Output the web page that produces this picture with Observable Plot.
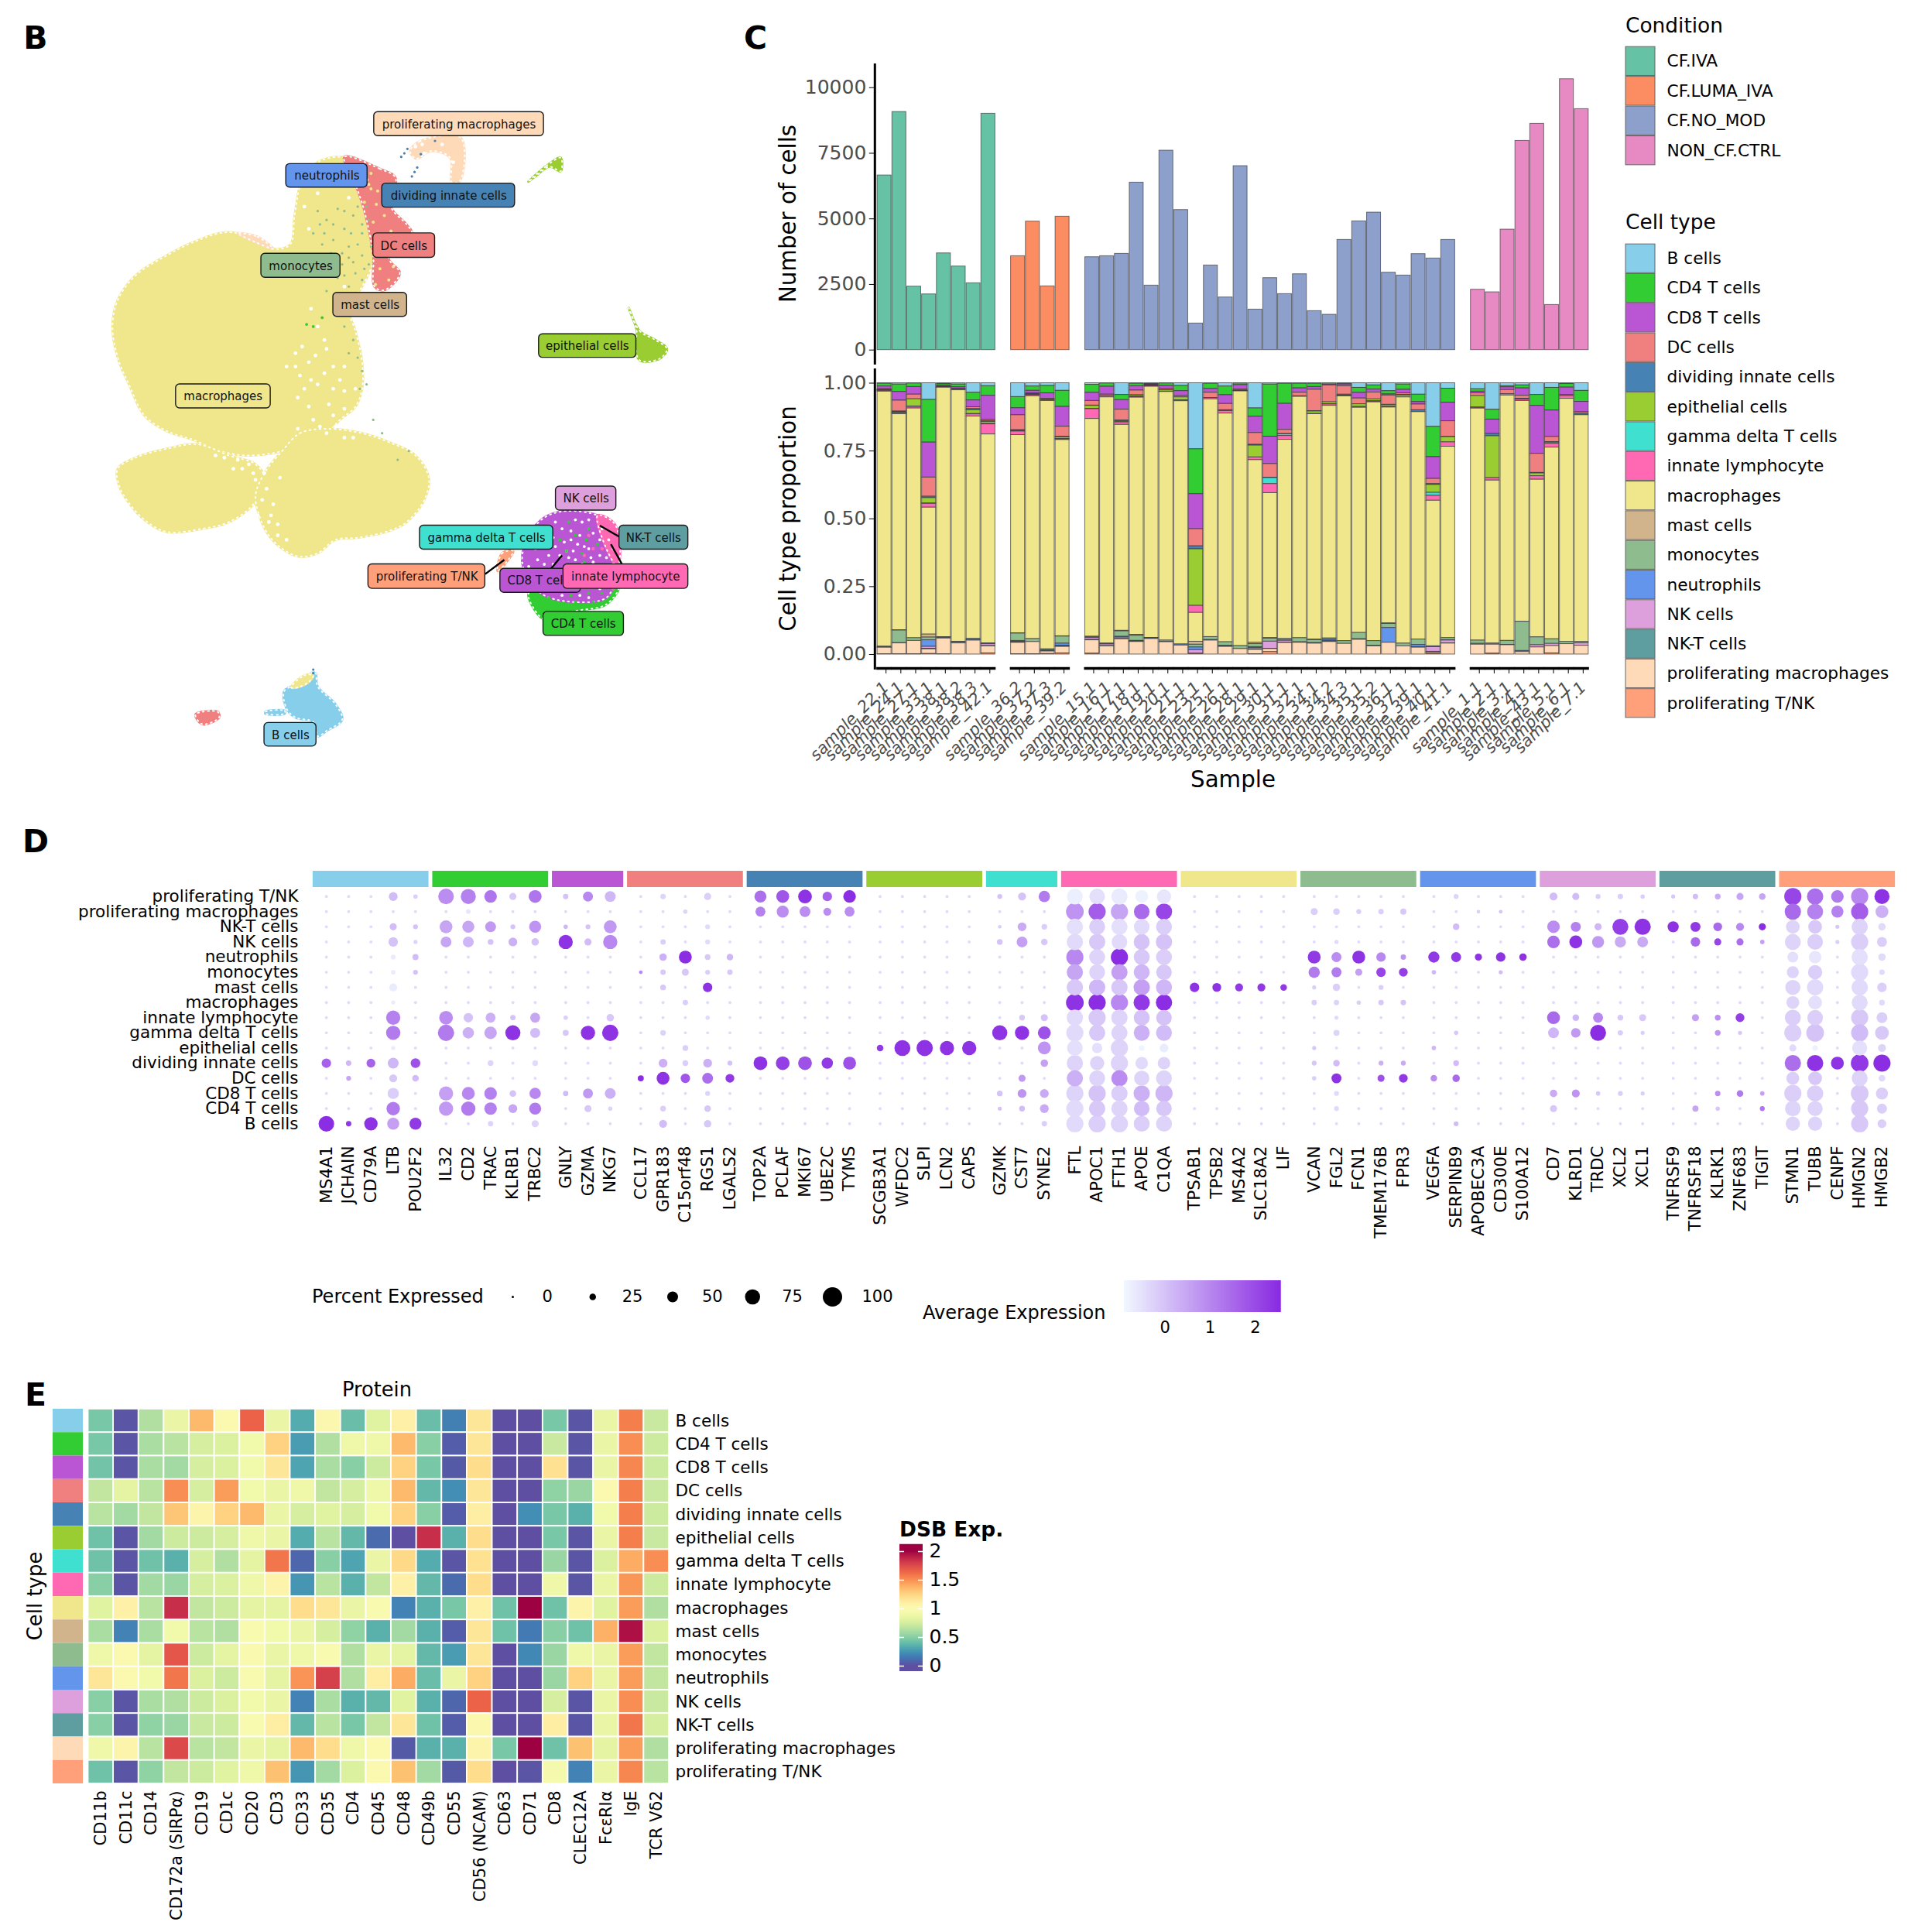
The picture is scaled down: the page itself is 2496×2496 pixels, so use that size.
<!DOCTYPE html>
<html><head><meta charset="utf-8">
<script src="https://cdn.jsdelivr.net/npm/d3@7"></script>
<script src="https://cdn.jsdelivr.net/npm/@observablehq/plot@0.6"></script>
<style>
html,body{margin:0;padding:0;background:#fff}
#root{position:relative;width:2496px;height:2496px;overflow:hidden;font-family:"DejaVu Sans",sans-serif}
</style></head><body><div id="root"></div>
<script>
// ---------- shared categories ----------
const cellTypes=["B cells","CD4 T cells","CD8 T cells","DC cells","dividing innate cells","epithelial cells","gamma delta T cells","innate lymphocyte","macrophages","mast cells","monocytes","neutrophils","NK cells","NK-T cells","proliferating macrophages","proliferating T/NK"];
const cellColors=["#87ceeb","#32cd32","#ba55d3","#f08080","#4682b4","#9acd32","#40e0d0","#ff69b4","#f0e68c","#d2b48c","#8fbc8f","#6495ed","#dda0dd","#5f9ea0","#ffdab9","#ffa07a"];
const conditions=["CF.IVA","CF.LUMA_IVA","CF.NO_MOD","NON_CF.CTRL"];
const conditionColors=["#66c2a5","#fc8d62","#8da0cb","#e78ac3"];

// ---------- panel C: samples ----------
const samplesIVA=["sample_22.1","sample_24.1","sample_27.1","sample_33.1","sample_38.1","sample_38.2","sample_38.3","sample_42.1"];
const samplesLUMA=["sample_36.2","sample_37.2","sample_37.3","sample_39.2"];
const samplesNOMOD=["sample_15.1","sample_16.1","sample_17.1","sample_18.1","sample_19.1","sample_20.1","sample_21.1","sample_23.1","sample_25.1","sample_26.1","sample_28.1","sample_29.1","sample_30.1","sample_31.1","sample_32.1","sample_34.1","sample_34.2","sample_34.3","sample_35.1","sample_35.2","sample_36.1","sample_37.1","sample_39.1","sample_40.1","sample_41.1"];
const samplesCTRL=["sample_1.1","sample_2.1","sample_3.1","sample_4.1","sample_43.1","sample_5.1","sample_6.1","sample_7.1"];
const countsIVA=[6656,9076,2419,2124,3687,3186,2547,9007];
const countsLUMA=[3579,4897,2429,5084];
const countsNOMOD=[3540,3579,3668,6382,2458,7601,5339,1013,3225,2006,7011,1544,2743,2134,2891,1485,1347,4199,4907,5241,2950,2842,3658,3491,4199];
const countsCTRL=[2301,2203,4592,7974,8623,1721,10324,9184];
// per-sample percentages, columns in cellTypes order
const propsIVA=[
[.2,1,1,.3,.1,.1,.1,.3,94,0,.3,.1,0,0,2.4,.1],
[.5,2.7,3.2,4,.3,.2,.1,.4,79.4,.1,4.6,.1,0,0,4,.1],
[.1,1.3,2.8,1.7,0,2.7,.1,.6,84.5,0,1,0,0,0,4.9,.1],
[6.1,15.6,12.8,7,.5,2,.1,1.4,46.4,1.1,1,2.4,.7,.2,1.7,.2],
[.3,.5,.4,.1,.1,.1,.05,.1,91.9,.1,.3,.1,0,0,5.8,.1],
[.5,1,.5,.3,.3,0,0,0,92.5,.1,.4,.1,0,0,4.1,0],
[3.5,2.8,2.5,.7,.4,1.4,.1,.8,81.5,0,.5,.2,0,0,5.1,0],
[1.1,3.5,8.9,.5,.2,.7,.2,3.7,76.7,0,.2,.1,.7,.1,2.6,.4]];
const propsLUMA=[
[5.1,4.1,2.6,5.5,.2,.2,.1,1.3,73,.1,2.7,.3,.2,.2,4.2,.1],
[1.2,1.6,.9,.3,.2,.1,.1,.4,89.5,0,1.1,0,0,0,4.5,.1],
[1,2.7,2,.3,0,.3,0,.2,90.8,0,.4,.3,.1,0,.9,.2],
[2.8,5.9,7.3,3.7,.2,.6,.1,.3,72.2,.1,2.6,.8,.1,.3,2.4,.4]];
const propsNOMOD=[
[.6,2.9,3,1.7,.1,1.1,.1,3.6,79.8,.1,.3,0,.7,.2,4.9,.3],
[.1,1.2,2.9,.5,0,0,0,.5,90.5,.1,.2,0,.6,.1,3,0],
[4.3,1.9,3.5,4,.4,.3,0,.9,75.6,.2,2,.3,.5,.1,5.6,0],
[.2,.9,1.6,1.7,0,.5,.1,.3,87,.3,1.9,.2,.1,.1,4.6,0],
[.3,.2,.2,.2,.1,0,0,.3,92.2,0,.1,.3,0,0,5.7,0],
[.1,.9,1,.5,.1,.5,0,.1,91,0,.5,.1,0,0,4.5,0],
[1,1.9,1.8,.5,0,1.1,.1,.2,89.3,0,0,.4,0,0,3.3,0],
[24.3,16.5,12.9,6.3,1.1,20.8,0,2.6,10.6,1.1,1,1,1.3,0,.1,.2],
[.2,1.9,1.4,1.9,0,0,0,.5,87.2,0,1.1,0,0,.2,5.1,0],
[1.2,3.2,3.2,2.3,.3,0,0,.9,83.8,0,1.3,.3,0,.1,2.8,0],
[.1,.6,1.6,.4,.1,.1,0,.1,93.4,0,1.1,0,0,0,2,0],
[9.2,3,6,4.3,.3,4.3,0,1,66.7,.5,1.1,.3,.5,.2,1.6,.1],
[.5,19,10,5,.1,0,2.2,3.3,52.9,.2,1.1,0,2.6,.1,1.1,.9],
[.2,7.3,9.5,1.5,.1,0,.6,1.4,72.5,0,.6,.1,.7,.1,4.2,0],
[.2,1.7,1.6,1.3,0,0,0,.2,88.6,0,1.5,.2,0,0,4.3,0],
[.2,1.2,1,7.9,.1,.9,0,.1,82.9,.2,1.1,.1,0,.1,4,0],
[0,.5,.3,6.2,0,.7,.1,.5,85.5,0,.5,.4,.2,.2,4.6,0],
[.2,.3,.6,3.1,.4,.1,0,.1,89.7,0,1,0,0,0,3.9,0],
[1.7,1.8,2.1,2.1,0,1,0,.3,82.5,0,2.3,.2,0,0,5.4,0],
[.8,1.5,1.1,2.5,0,.7,.1,.3,87.3,0,1.7,.2,0,0,3,0],
[2.9,1.2,.4,3.4,.1,.6,0,.3,79,.2,1.5,5.4,0,0,4.3,0],
[.5,1.9,1.3,.6,.2,.7,0,0,90.3,0,1,0,0,0,3,0],
[4.2,2.7,.9,2.1,.7,0,0,0,83.3,0,2,.8,.2,0,2.5,0],
[16,11.1,8,1.9,.3,2.9,1.1,1.8,53.4,0,0,.3,1.7,.2,.5,.3],
[2,5.1,6.8,5.7,.1,1.9,0,1.6,69.9,0,.8,.1,1,.1,4,0]];
const propsCTRL=[
[2.2,.9,.6,1,0,4.2,.1,.3,85,0,1.2,0,.3,0,3.6,0],
[9.7,3.6,5.2,0,.9,15.3,0,.9,59.6,0,0,.4,0,0,3.3,.3],
[1.1,.4,1,1.5,0,0,0,.5,89.9,0,1.5,0,0,.1,3.4,0],
[.8,1.1,2.7,1.1,.3,0,0,.5,80.8,0,10.7,.4,0,0,.9,0],
[4.3,4,17.6,7,.2,1,0,1.3,57.8,0,2.9,0,.8,0,2.6,0],
[1.7,8.3,9.7,1.9,.2,.4,0,1.4,70.3,0,1.7,0,.8,0,2.7,.4],
[.3,1.3,2.7,.4,0,0,0,1,89,0,.8,0,0,0,3.8,0],
[2.8,4,3.8,.6,.5,0,0,0,82.9,0,.5,0,.9,0,3.2,0]];

// ---------- panel D: marker genes; each hit is [rowIndex, percent, average expression] ----------
const dotRows=[...cellTypes].reverse(); // proliferating T/NK at top ... B cells at bottom
const hitsB={MS4A1:[[11,42,1.6],[15,78,2.5]],JCHAIN:[[11,18,.2],[12,15,.5],[15,18,2.3]],CD79A:[[11,38,1.6],[15,65,2.4]],
LTB:[[0,38,.1],[2,28,.1],[3,42,0],[4,15,-.7],[5,13,-.7],[6,33,-.7],[7,10,-.7],[8,70,1.1],[9,70,1.2],[10,10,-.7],[11,50,.2],[12,33,-.1],[13,52,-.2],[14,65,1.2],[15,57,.6]],
POU2F2:[[0,12,-.2],[2,15,0],[3,10,-.3],[4,22,.1],[5,15,0],[11,43,1.9],[12,25,.1],[15,57,2.3]]};
const hitsCD4={IL32:[[0,78,.9],[2,62,.5],[3,50,.5],[8,67,.9],[9,82,1.2],[13,70,.6],[14,70,.7]],
CD2:[[0,75,1.1],[1,13,-.6],[2,57,.5],[3,50,.2],[8,42,0],[9,53,.3],[13,62,1],[14,70,1.2]],
TRAC:[[0,60,1.3],[2,50,.7],[3,20,0],[8,45,.3],[9,60,.5],[11,20,-.3],[13,60,1.1],[14,60,1.1],[15,18,-.3]],
KLRB1:[[0,28,-.1],[2,15,0],[3,38,.3],[8,18,0],[9,75,2.4],[13,25,0],[14,38,.5]],
TRBC2:[[0,62,1.3],[2,57,.8],[3,30,0],[8,45,.5],[9,45,.1],[11,20,-.4],[13,53,1],[14,57,1.2],[15,28,-.3]]};
const hitsCD8={GNLY:[[0,18,0],[2,12,.2],[3,70,2.4],[8,12,-.2],[9,22,-.1],[13,18,.1]],
GZMA:[[0,45,1],[2,15,0],[3,28,.1],[9,70,2.4],[13,45,.7],[14,28,-.1]],
NKG7:[[0,50,.2],[2,62,.7],[3,70,1],[8,30,-.1],[9,82,2.4],[13,50,.3],[14,12,-.3]]};
const hitsDC={CCL17:[[5,8,1],[12,22,2.5]],
GPR183:[[0,18,-.3],[3,18,-.2],[4,30,.3],[5,18,-.1],[6,20,-.1],[9,20,-.3],[11,38,.3],[12,62,2.4],[14,20,-.2],[15,33,.1]],
C15orf48:[[1,12,-.3],[4,62,2.5],[5,28,-.1],[7,18,-.2],[10,20,-.2],[11,20,-.2],[12,42,1.8]],
RGS1:[[0,28,-.2],[2,15,-.4],[3,15,-.4],[4,20,-.1],[5,15,-.2],[6,42,2.4],[8,12,-.4],[11,38,.3],[12,50,1.4],[13,15,-.3],[14,25,-.1],[15,30,-.1]],
LGALS2:[[4,25,.2],[5,18,-.1],[11,15,0],[12,38,2.3]]};
const hitsDividing={TOP2A:[[0,57,1.4],[1,45,1.1],[11,67,2.4]],PCLAF:[[0,62,1.8],[1,57,.9],[11,67,2.2]],MKI67:[[0,67,2.4],[1,50,.9],[11,67,1.9]],UBE2C:[[0,42,1.6],[1,33,.9],[11,53,2.3]],TYMS:[[0,60,2.5],[1,45,.9],[11,62,1.9]]};
const hitsEpithelial={SCGB3A1:[[10,25,2.3]],WFDC2:[[10,80,2.4]],SLPI:[[10,82,2.4]],LCN2:[[10,70,2.4]],CAPS:[[10,70,2.4]]};
const hitsGamma={GZMK:[[0,15,0],[2,8,-.2],[3,20,0],[9,75,2.4],[13,20,0],[14,10,0]],
CST7:[[0,33,0],[2,38,.4],[3,50,.6],[8,20,-.1],[9,70,2.4],[12,28,.7],[13,38,.8],[14,20,.1]],
SYNE2:[[0,53,1.2],[2,20,-.2],[3,25,-.1],[8,28,0],[9,62,1.9],[10,62,.8],[11,30,.6],[13,38,.4],[14,38,.4],[15,18,-.2]]};
const hitsInnate={FTL:[[0,80,-.75],[1,90,.8],[2,82,-.5],[3,82,-.4],[4,87,1],[5,82,.5],[6,82,-.1],[7,90,2.4],[8,82,-.4],[9,87,-.4],[10,78,-.5],[11,82,-.3],[12,82,.3],[13,87,-.3],[14,87,-.4],[15,87,-.4]],
APOC1:[[0,78,-.5],[1,87,1.7],[2,80,-.2],[3,82,-.1],[4,80,-.3],[5,80,-.3],[6,82,.2],[7,87,2.5],[8,87,-.1],[9,82,-.1],[10,47,-.5],[11,70,-.3],[12,80,-.3],[13,87,0],[14,82,-.1],[15,87,-.2]],
FTH1:[[0,82,-.7],[1,87,.5],[2,82,-.5],[3,78,-.4],[4,87,2.5],[5,82,.6],[6,82,-.1],[7,87,1],[8,82,-.3],[9,82,-.3],[10,87,-.3],[11,87,-.3],[12,82,.9],[13,82,-.2],[14,82,-.3],[15,87,-.3]],
APOE:[[0,62,-.8],[1,78,1.5],[2,78,-.4],[3,80,0],[4,80,-.1],[5,80,.2],[6,82,.6],[7,82,2.3],[8,80,0],[9,80,.3],[10,20,-.85],[11,60,-.4],[12,76,-.3],[13,82,.3],[14,78,.1],[15,80,-.2]],
C1QA:[[0,70,-.6],[1,82,2.1],[2,80,-.2],[3,82,0],[4,80,-.2],[5,78,-.1],[6,80,.2],[7,82,2.5],[8,78,0],[9,80,.1],[10,38,-.7],[11,60,-.3],[12,80,-.3],[13,87,.2],[14,78,-.1],[15,80,-.3]]};
const hitsMacrophage={TPSAB1:[[6,42,2.4]],TPSB2:[[6,38,2.4]],MS4A2:[[6,33,2.3]],SLC18A2:[[6,33,2.3]],LIF:[[6,25,2.3]]};
const hitsMonocyte={VCAN:[[1,28,-.2],[4,62,2.3],[5,53,1.2],[6,10,-.2],[7,18,-.2],[10,10,-.1],[11,15,-.1],[12,12,-.2]],
FGL2:[[1,25,-.2],[3,10,-.4],[4,45,.9],[5,45,1.2],[6,30,-.2],[7,18,-.3],[8,10,-.4],[9,22,-.3],[11,25,.1],[12,45,2.4],[13,15,-.4],[14,15,-.4]],
FCN1:[[1,15,-.2],[4,62,2.4],[5,28,.6],[7,12,-.2]],
TMEM176B:[[1,18,-.2],[4,42,1],[5,42,2.1],[6,15,-.2],[7,18,-.1],[11,15,.3],[12,28,1.9]],
FPR3:[[1,22,-.1],[4,18,.8],[5,38,2.2],[7,18,0],[11,15,.4],[12,38,2.3]]};
const hitsNeutrophil={VEGFA:[[4,52,2.3],[5,12,.2],[10,12,.2],[12,25,.9]],
SERPINB9:[[0,15,-.3],[2,25,.1],[4,45,2.3],[9,12,-.1],[11,20,.1],[12,30,1.5],[15,15,.1]],
APOBEC3A:[[4,28,2.4],[1,8,-.2]],CD300E:[[4,42,2.4],[1,8,0],[5,10,.1]],S100A12:[[4,30,2.4]]};
const hitsNK={CD7:[[0,33,.1],[2,60,.9],[3,60,1.4],[8,62,1.5],[9,50,.2],[13,30,.4],[14,28,-.1]],
KLRD1:[[0,28,.1],[2,45,1.1],[3,62,2.4],[8,25,.2],[9,42,.7],[13,33,.8]],
TRDC:[[0,15,-.2],[2,28,.2],[3,57,.7],[8,45,1],[9,80,2.5],[13,12,-.1]],
XCL2:[[0,18,-.2],[2,80,2.2],[3,52,.4],[8,20,-.1],[9,18,-.2],[13,15,-.2]],
XCL1:[[0,12,-.2],[2,82,2.4],[3,50,.4],[8,28,-.1],[9,10,-.2],[13,10,-.2]]};
const hitsNKT={TNFRSF9:[[0,10,-.1],[2,52,2.4]],
TNFRSF18:[[0,18,.1],[2,45,2.3],[3,42,1.5],[8,28,.6],[14,22,.5]],
KLRK1:[[0,20,.4],[2,38,1.5],[3,28,2.1],[8,20,.9],[9,20,.8],[13,18,.9],[14,12,-.1]],
ZNF683:[[0,28,.5],[2,33,1],[3,28,1.4],[8,38,2.2],[9,10,-.1],[13,25,1.2]],
TIGIT:[[0,25,.5],[2,28,2.5],[3,12,.6],[13,12,.6],[14,15,1.3]]};
const hitsProlif={STMN1:[[0,87,2.1],[1,82,1.5],[2,67,-.3],[3,80,-.3],[4,50,-.5],[5,57,-.3],[6,75,-.3],[7,62,-.3],[8,80,-.2],[9,87,-.2],[10,28,-.4],[11,82,1.4],[12,62,-.2],[13,87,-.2],[14,78,-.3],[15,70,-.3]],
TUBB:[[0,82,1.4],[1,80,1.1],[2,67,-.1],[3,78,-.2],[4,60,-.6],[5,70,-.2],[6,82,-.4],[7,67,-.5],[8,78,-.2],[9,90,0],[10,20,-.8],[11,82,2.4],[12,67,-.1],[13,82,-.2],[14,75,-.3],[15,70,-.3]],
CENPF:[[0,60,1.2],[1,57,1.1],[2,10,-.1],[3,10,-.2],[11,62,2.4]],
HMGN2:[[0,87,1],[1,87,1.7],[2,82,-.3],[3,87,-.2],[4,82,-.5],[5,87,-.4],[6,82,-.4],[7,80,-.4],[8,87,-.1],[9,87,.1],[10,75,-.5],[11,90,2.3],[12,80,-.3],[13,90,-.1],[14,87,-.1],[15,87,-.1]],
HMGB2:[[0,75,2.4],[1,62,.3],[2,30,-.4],[3,45,-.2],[4,30,-.4],[5,18,-.4],[6,42,-.2],[7,20,-.4],[8,50,-.2],[9,67,-.1],[10,33,-.3],[11,87,2.5],[12,25,-.4],[13,57,-.2],[14,45,-.2],[15,38,-.2]]};
const markerGroups=[["B cells",hitsB],["CD4 T cells",hitsCD4],["CD8 T cells",hitsCD8],["DC cells",hitsDC],["dividing innate cells",hitsDividing],["epithelial cells",hitsEpithelial],["gamma delta T cells",hitsGamma],["innate lymphocyte",hitsInnate],["macrophages",hitsMacrophage],["monocytes",hitsMonocyte],["neutrophils",hitsNeutrophil],["NK cells",hitsNK],["NK-T cells",hitsNKT],["proliferating T/NK",hitsProlif]];
const pctLegend=[0,25,50,75,100];
const exprTicks=[0,1,2];

// ---------- panel E: protein heatmap ----------
const proteins=["CD11b","CD11c","CD14","CD172a (SIRPα)","CD19","CD1c","CD20","CD3","CD33","CD35","CD4","CD45","CD48","CD49b","CD55","CD56 (NCAM)","CD63","CD71","CD8","CLEC12A","FcεRIα","IgE","TCR Vδ2"];
const dsbB=[.45,.02,.62,.85,1.35,1,1.65,.85,.33,1.02,.4,.8,1.08,.4,.17,1.15,0,0,.45,.02,.85,1.55,.7];
const dsbCD4=[.45,.02,.6,.65,.75,.78,.9,1.25,.27,.62,.88,.88,1.35,.5,.05,1.15,0,0,.7,.02,.85,1.5,.72];
const dsbCD8=[.43,.02,.6,.58,.75,.78,.9,1.15,.3,.6,.5,.72,1.25,.45,.04,1.2,0,0,1.18,.02,.85,1.52,.72];
const dsbDC=[.68,.82,.65,1.5,.75,1.45,.9,.85,.88,.68,.75,.88,1.35,.38,.22,1.15,0,0,.52,.55,1,1.55,.7];
const dsbDividing=[.65,.58,.68,1.3,1.05,1.25,1.35,.85,.75,.8,.75,.9,1.25,.5,.05,1.1,0,.22,.45,.35,.9,1.55,.72];
const dsbEpithelial=[.42,.02,.58,.72,.72,.75,.88,.85,.33,.65,.38,.1,0,1.85,.35,1.2,0,0,.45,.02,.85,1.55,.7];
const dsbGamma=[.42,.02,.42,.35,.75,.62,.82,1.58,.08,.5,.3,.85,1.22,.33,.02,1.18,0,0,.55,.02,.78,1.4,1.5];
const dsbInnate=[.5,.02,.58,.55,.75,.78,.88,1.05,.25,.65,.35,.68,1.08,.38,.1,1.2,0,0,.88,.02,.85,1.47,.72];
const dsbMacrophages=[.8,1.08,.65,1.85,.68,.72,.82,.82,1.2,1.15,.85,.95,.18,.35,.45,1.08,.42,2,.42,1.05,.8,1.45,.62];
const dsbMast=[.6,.18,.6,.9,.65,.62,.95,.9,.85,.75,.52,.35,.58,.35,.05,1.15,.42,.15,.5,.42,1.38,1.95,.78];
const dsbMonocytes=[.88,1,.82,1.7,.72,.82,.98,.85,.88,.95,.62,.85,.82,.38,.27,1.15,0,.2,.55,.88,.85,1.45,.68];
const dsbNeutrophils=[1.15,1,.9,1.58,.78,.72,.95,.82,1.48,1.78,.62,1.1,1.4,.4,.85,1.25,0,0,.55,1.25,.85,1.45,.68];
const dsbNK=[.5,.02,.6,.62,.72,.78,.9,.85,.18,.6,.35,.38,.8,.35,.08,1.65,0,0,.75,.02,.85,1.5,.7];
const dsbNKT=[.5,.02,.52,.55,.7,.72,.95,1.1,.38,.65,.45,.68,1.15,.42,.05,1.02,0,0,1.1,.02,.85,1.58,.75];
const dsbProlifMac=[.88,1.05,.65,1.75,.65,.68,.85,.82,1.35,1.2,.88,1,.04,.35,.35,1.05,.45,2,.42,1.32,.82,1.45,.62];
const dsbProlifT=[.42,.02,.52,.68,.72,.8,.88,1.32,.25,.58,.78,1,1.32,.58,.04,1.2,0,.02,.92,.18,.85,1.52,.65];
const dsbRows=[dsbB,dsbCD4,dsbCD8,dsbDC,dsbDividing,dsbEpithelial,dsbGamma,dsbInnate,dsbMacrophages,dsbMast,dsbMonocytes,dsbNeutrophils,dsbNK,dsbNKT,dsbProlifMac,dsbProlifT];

// ---------- panel B: UMAP regions (embedding units) ----------
const umapRegions=[
["macrophages",[[78,560],[90,500],[130,445],[200,400],[260,370],[330,348],[380,355],[440,385],[478,375],[488,310],[505,230],[540,190],[590,178],[625,190],[650,260],[670,330],[670,400],[640,470],[610,520],[625,570],[640,640],[640,700],[625,740],[590,770],[560,800],[500,820],[460,840],[380,850],[320,840],[260,815],[200,795],[150,760],[115,690],[90,630]]],
["macrophages",[[90,880],[130,855],[200,835],[270,825],[340,850],[400,870],[420,900],[395,960],[340,1000],[280,1015],[200,1022],[150,995],[110,950],[92,915]]],
["macrophages",[[460,840],[500,800],[560,790],[640,800],[700,820],[760,850],[790,900],[780,950],[740,1000],[700,1020],[630,1035],[580,1040],[540,1070],[500,1078],[460,1060],[430,1030],[410,990],[400,940],[420,890]]],
["DC cells",[[600,178],[680,205],[715,225],[705,290],[740,330],[752,350],[700,405],[725,440],[690,478],[668,470],[665,400],[645,300],[625,240]]],
["proliferating macrophages",[[748,165],[770,143],[862,135],[860,232],[842,235],[838,180],[795,165],[762,182]]],
["proliferating macrophages",[[360,350],[405,358],[440,385],[400,370]]],
["epithelial cells",[[1240,518],[1265,570],[1300,590],[1326,610],[1310,632],[1265,636],[1255,600],[1258,570]]],
["epithelial cells",[[1014,234],[1055,198],[1087,180],[1087,210],[1062,200],[1030,222]]],
["CD4 T cells",[[1015,1160],[1060,1140],[1218,1140],[1190,1185],[1120,1200],[1050,1218],[1030,1200]]],
["CD8 T cells",[[1000,1085],[1015,1030],[1050,990],[1100,975],[1170,985],[1205,1010],[1218,1060],[1212,1120],[1190,1170],[1120,1180],[1050,1165],[1015,1130]]],
["innate lymphocyte",[[1170,985],[1205,1000],[1220,1040],[1215,1100],[1192,1065]]],
["B cells",[[525,1340],[535,1340],[540,1370],[580,1410],[595,1445],[560,1470],[540,1482],[530,1450],[490,1440],[470,1420],[465,1380],[500,1365],[520,1360]]],
["macrophages",[[480,1372],[510,1345],[530,1345],[520,1360],[495,1372]]],
["DC cells",[[265,1433],[315,1427],[318,1440],[280,1455]]],
["B cells",[[422,1427],[466,1425],[466,1431],[422,1431]]],
["proliferating T/NK",[[945,1110],[955,1070],[980,1065],[965,1090]]]
];
const umapBlueBits=[[728,178],[735,170],[742,160],[752,222],[758,212],[764,202],[804,142],[772,172],[530,1332],[530,1340]];
const umapGaps=[[490,620],[520,640],[560,610],[600,650],[500,670],[540,690],[575,700],[470,650],[600,705],[575,760],[610,775],[640,760],[560,800],[600,810],[650,790],[530,770],[495,790],[330,855],[360,860],[310,850],[400,905],[425,925],[440,960],[405,985],[430,1000],[450,1030],[420,890],[385,870],[350,880],[455,900],[600,470],[570,440],[580,500],[525,520],[540,560],[555,590],[495,720],[520,740],[625,700],[650,740],[505,605],[535,625],[575,650],[490,650],[525,680],[555,665],[590,680],[510,700],[565,735],[600,745],[620,810],[580,785],[545,785],[370,880],[395,890],[415,950],[435,985],[450,1005],[470,1040],[510,290],[540,260],[590,240],[610,270],[520,340],[650,230],[780,170],[800,190],[820,205],[775,150],[820,150],[845,190],[760,155]];
const umapMonocytes=[[540,300],[560,320],[585,295],[600,340],[620,310],[640,350],[575,365],[610,380],[640,400],[595,420],[625,440],[655,420],[560,400],[650,290],[585,450],[610,470],[640,455],[560,480],[590,530],[600,560],[620,590],[610,620],[630,630],[640,660],[635,700],[650,690],[665,770],[685,800],[720,860],[745,840],[530,350],[555,350],[640,330],[600,300],[660,380],[575,330],[615,350],[595,395],[630,375],[610,405],[580,430],[600,445],[645,430],[620,415],[665,355],[655,320],[630,290],[570,395],[550,375],[545,330]];
const umapDcMix=[[640,225],[660,250],[672,285],[690,310],[705,345],[680,360],[690,395],[680,430],[700,455],[675,255],[660,215],[645,280],[665,325],[690,270],[720,355],[655,240],[695,240],[670,465],[710,425],[625,210]];
const umapTGreen=[[1120,1030],[1150,1015],[1100,1065],[1135,1070],[1170,1050],[1060,1170],[1040,1185],[1180,1160],[1205,1165],[1130,1150],[1100,1125],[1150,1140],[1075,1190],[1045,1205],[1195,1120],[1085,1040],[1165,1100],[515,555],[530,560],[550,540],[1090,1110],[1125,1115],[1160,1125],[1110,1165],[1065,1110],[1140,1090],[1180,1100],[1145,1040],[1105,1000],[1180,1135],[1150,1160],[1095,1140],[1120,1180],[1160,1180]];
const umapTWhite=[[1040,1010],[1075,1000],[1110,1020],[1135,1000],[1160,1025],[1095,1045],[1125,1050],[1150,1060],[1060,1055],[1030,1060],[1085,1075],[1120,1085],[1160,1090],[1190,1080],[1050,1095],[1100,1100],[1140,1110],[1075,1125],[1170,1130],[1115,1135],[1045,1140],[1200,1130],[1090,1165],[1150,1170],[1015,1100],[1130,1030],[1180,1015],[1070,1035],[1105,1150],[1195,1040],[1055,1020],[1090,1015],[1120,995],[1150,995],[1175,1040],[1045,1040],[1075,1055],[1110,1040],[1140,1055],[1035,1085],[1070,1095],[1105,1080],[1135,1095],[1175,1075],[1205,1095],[1030,1120],[1060,1130],[1090,1115],[1125,1125],[1155,1115],[1185,1110],[1070,1150],[1130,1165],[1175,1150],[1205,1060],[1020,1045],[1060,1075],[1100,1065],[1155,1080],[1115,1065]];
const umapTPink=[[1150,1030],[1180,1060],[1195,1105],[1160,1060],[1185,1120],[1140,1075],[1205,1150],[1175,1000]];
const umapLinks=[[917,1117,960,1085],[1065,1105,1090,1075],[1175,1008,1219,1033],[1200,1050,1225,1095]];
const umapLabels=[
["CD8 T cells",951,1132,1105,1159,1040,1132],
["proliferating macrophages",667,1049,77,131,858,105],
["neutrophils",469,652,194,247,561,221],
["dividing innate cells",685,984,238,292,835,266],
["DC cells",665,804,350,405,734,379],
["monocytes",413,591,396,450,502,424],
["mast cells",575,741,484,538,658,512],
["epithelial cells",1038,1257,577,630,1147,604],
["macrophages",221,434,690,744,327,718],
["NK cells",1076,1212,920,974,1144,948],
["gamma delta T cells",770,1070,1008,1062,920,1036],
["NK-T cells",1219,1374,1008,1062,1296,1036],
["proliferating T/NK",654,917,1095,1150,786,1123],
["innate lymphocyte",1093,1374,1095,1150,1233,1123],
["CD4 T cells",1048,1229,1202,1256,1138,1230],
["B cells",420,537,1452,1505,479,1480]];

// ---------- helpers ----------
const root=document.getElementById("root");
const baseStyle={fontFamily:"DejaVu Sans",background:"none",overflow:"visible"};
function place(left,top,opts,fontSize=21){
  const p=Plot.plot({...opts,style:{...baseStyle,fontSize:fontSize+"px"}});
  p.style.position="absolute";p.style.left=left+"px";p.style.top=top+"px";
  root.append(p);return p;
}
function note(text,x,y,size,extra={}){
  const d=document.createElement("div");d.textContent=text;
  Object.assign(d.style,{position:"absolute",left:x+"px",top:y+"px",fontSize:size+"px",whiteSpace:"nowrap",lineHeight:"1",
    transform:`translate(${extra.anchor==="start"?"0":"-50%"},-50%) rotate(${extra.rotate||0}deg)`,fontWeight:extra.weight||"normal",color:"#000"});
  root.append(d);
}
const cellColor={domain:cellTypes,range:cellColors};

// ---------- panel letters ----------
note("B",46,49,41,{weight:"bold"});note("C",976,49,41,{weight:"bold"});note("D",46,1087,41,{weight:"bold"});note("E",46,1802,41,{weight:"bold"});

// ---------- panel B ----------
{
  const regionFill=n=>cellColors[cellTypes.indexOf(n)];
  const umapX={domain:[0,1568],range:[0,900],axis:null};
  const umapY={domain:[0,1568],range:[0,900],axis:null};
  place(100,100,{width:900,height:900,margin:0,x:umapX,y:umapY,marks:[
    ...umapRegions.flatMap(([n,pts])=>[
      Plot.line(pts,{x:"0",y:"1",fill:regionFill(n),stroke:regionFill(n),strokeWidth:3,strokeDasharray:"2 2",curve:"catmull-rom-closed"}),
      Plot.line(pts,{x:"0",y:"1",stroke:"white",strokeWidth:2,strokeDasharray:"1.5 5",curve:"catmull-rom-closed"})]),
    Plot.dot(umapDcMix,{x:"0",y:"1",r:2,fill:"#f0e68c"}),
    Plot.dot(umapGaps,{x:"0",y:"1",r:2.4,fill:"white"}),
    Plot.dot(umapMonocytes,{x:"0",y:"1",r:1.6,fill:"#8fbc8f"}),
    Plot.dot(umapBlueBits,{x:"0",y:"1",r:1.6,fill:"#4682b4"}),
    Plot.dot(umapTWhite,{x:"0",y:"1",r:1.9,fill:"white"}),
    Plot.dot(umapTGreen,{x:"0",y:"1",r:1.9,fill:"#32cd32"}),
    Plot.dot(umapTPink,{x:"0",y:"1",r:2.2,fill:"#ff69b4"}),
    Plot.link(umapLinks,{x1:"0",y1:"1",x2:"2",y2:"3",stroke:"black",strokeWidth:2.4}),
    ...umapLabels.flatMap(l=>[Plot.rect([l],{x1:"1",x2:"2",y1:"3",y2:"4",rx:5,fill:regionFill(l[0]),stroke:"#1a1a1a",strokeWidth:1.4}),Plot.text([l],{x:"5",y:"6",text:"0",fill:"#111"})])
  ]},15);
}

// ---------- panel C ----------
const sep=[" ","  ","   "];
const sampleDomain=[...samplesIVA,sep[0],...samplesLUMA,sep[1],...samplesNOMOD,sep[2],...samplesCTRL];
const sampleGroups=[[samplesIVA,countsIVA,propsIVA,conditions[0]],[samplesLUMA,countsLUMA,propsLUMA,conditions[1]],[samplesNOMOD,countsNOMOD,propsNOMOD,conditions[2]],[samplesCTRL,countsCTRL,propsCTRL,conditions[3]]];
const allSamples=sampleGroups.flatMap(g=>g[0]);
const countTable=sampleGroups.flatMap(([s,c,_,cond])=>s.map((d,i)=>({sample:d,n:c[i],condition:cond})));
const propTable=sampleGroups.flatMap(([s,_,p])=>s.flatMap((d,i)=>cellTypes.map((c,j)=>({sample:d,cell:c,p:p[i][j]})))).filter(d=>d.p>0);
const xBand={domain:sampleDomain,range:[132,1053],padding:.06,round:false,axis:null};

place(1000,60,{width:1100,height:420,marginLeft:129.8,marginTop:23,marginBottom:11,marginRight:0,x:xBand,
  y:{domain:[-510,10877],label:null,axis:null},color:{domain:conditions,range:conditionColors},marks:[
  Plot.barY(countTable,{x:"sample",y:"n",fill:"condition",stroke:"#333",strokeWidth:1,strokeOpacity:.65}),
  Plot.frame({anchor:"left",stroke:"black",strokeWidth:3}),
  Plot.axisY({ticks:[0,2500,5000,7500,10000],tickFormat:"d",tickSize:7,tickPadding:4,label:null,fill:"#4d4d4d",fontSize:25})
]},25);

place(1000,470,{width:1100,height:560,marginLeft:129.8,marginTop:7,marginBottom:167,marginRight:0,x:{...xBand},
  y:{domain:[-0.0514,1.0499],axis:null},color:cellColor,marks:[
  Plot.barY(propTable,{x:"sample",y:"p",fill:"cell",offset:"normalize",order:[...cellTypes].reverse(),stroke:"#333",strokeWidth:1,strokeOpacity:.7}),
  Plot.frame({anchor:"left",stroke:"black",strokeWidth:3}),
  Plot.tickY(allSamples,{x:d=>d,y:()=>-0.0514,stroke:"black",strokeWidth:3.5,insetLeft:-1,insetRight:-1}),
  Plot.axisY({ticks:[0,.25,.5,.75,1],tickFormat:".2f",tickSize:7,tickPadding:4,label:null,fill:"#4d4d4d",fontSize:25}),
  Plot.axisX({ticks:allSamples,tickSize:7,tickPadding:14,dx:2,tickRotate:-45,label:null,fill:"#4d4d4d",fontStyle:"italic",fontSize:21})
]},21);

note("Number of cells",1019,276,29.3,{rotate:-90});
note("Cell type proportion",1019,670,29.3,{rotate:-90});
note("Sample",1593,1008,29.3);

// legends
note("Condition",2100,33,26.4,{anchor:"start"});
place(2100,59,{width:396,height:155,margin:0,marginRight:358,y:{domain:conditions,axis:null,padding:.03,round:false},color:{domain:conditions,range:conditionColors},marks:[
  Plot.cell(conditions,{y:d=>d,fill:d=>d,stroke:"#666",strokeWidth:1}),
  Plot.text(conditions,{y:d=>d,text:d=>d,frameAnchor:"left",dx:53,textAnchor:"start",fill:"#000"})
]},21.7);
note("Cell type",2100,287,26.4,{anchor:"start"});
place(2100,313.5,{width:396,height:614,margin:0,marginRight:358,y:{domain:cellTypes,axis:null,padding:.03,round:false},color:cellColor,marks:[
  Plot.cell(cellTypes,{y:d=>d,fill:d=>d,stroke:"#666",strokeWidth:1}),
  Plot.text(cellTypes,{y:d=>d,text:d=>d,frameAnchor:"left",dx:53,textAnchor:"start",fill:"#000"})
]},21.7);

// ---------- panel D ----------
const geneTable=[];const headerTable=[];
markerGroups.forEach(([name,hits],gi)=>{
  const genes=Object.keys(hits);const start=geneTable.length+gi*0.37;
  genes.forEach(g=>geneTable.push({gene:g,group:name,pos:geneTable.length+gi*0.37,hits:hits[g]}));
  headerTable.push({group:name,x1:start-.6,x2:start+genes.length-1+.6});
});
const geneDots=geneTable.flatMap(g=>dotRows.map((r,i)=>{const h=g.hits.find(a=>a[0]===i);
  return {gene:g.gene,pos:g.pos,row:r,pct:h?h[1]:4,expr:h?h[2]:-.4};}));
const lastPos=geneTable[geneTable.length-1].pos;
const geneX={domain:[-.63,lastPos+.63],range:[403,2449],axis:null};
const exprColor={type:"linear",domain:[-.9,2.54],range:["#f0f8ff","#8a2be2"]};
const pctR={type:"linear",domain:[0,100],range:[1.5,12.5]};

place(0,1125,{width:2496,height:21,margin:0,x:geneX,color:cellColor,marks:[
  Plot.rect(headerTable,{x1:"x1",x2:"x2",fill:"group"})
]});
place(0,1148,{width:2496,height:520,marginTop:0,marginLeft:403,marginRight:47,marginBottom:198,x:geneX,
  y:{type:"point",domain:dotRows,range:[9.7,303.3],padding:0,round:false,axis:null},color:exprColor,r:pctR,marks:[
  Plot.dot(geneDots,{x:"pos",y:"row",r:"pct",fill:"expr"}),
  Plot.axisY({tickSize:0,tickPadding:18,label:null,fill:"#000"}),
  Plot.axisX({ticks:geneTable.map(g=>g.pos),tickFormat:p=>geneTable.find(g=>g.pos===p).gene,tickRotate:-90,tickSize:0,tickPadding:10,label:null,fill:"#000"})
]},21.5);

// size legend
note("Percent Expressed",403,1675,24,{anchor:"start"});
place(640,1657,{width:540,height:36,margin:0,x:{type:"point",domain:pctLegend,range:[22,435],padding:0,round:false,axis:null},r:pctR,marks:[
  Plot.dot(pctLegend,{x:d=>d,frameAnchor:"middle",r:d=>d,fill:"black"}),
  Plot.text(pctLegend,{x:d=>d,frameAnchor:"middle",text:d=>d,dx:38,textAnchor:"start",fill:"#000"})
]},21);
note("Average Expression",1192,1696,24,{anchor:"start"});
const exprRamp=d3.range(-.9,2.54,.02);
place(1452,1654,{width:201,height:90,marginTop:0,marginLeft:0,marginRight:0,marginBottom:49,x:{domain:[-.9,2.54],axis:null},y:{domain:[0,1],axis:null},color:exprColor,marks:[
  Plot.rect(exprRamp,{x1:d=>d,x2:d=>d+.05,fill:d=>d}),
  Plot.axisX({ticks:exprTicks,tickSize:0,tickPadding:12,label:null,tickFormat:"d",fill:"#000"})
]},21);

// ---------- panel E ----------
const dsbTable=cellTypes.flatMap((c,i)=>proteins.map((p,j)=>({cell:c,protein:p,v:dsbRows[i][j]})));
const dsbColor={type:"linear",scheme:"spectral",reverse:true,domain:[0,2],clamp:true};
place(0,1800,{width:1266,height:696,marginLeft:113.5,marginRight:402,marginTop:20,marginBottom:192,
  x:{domain:proteins,padding:0,round:false,axis:null},y:{domain:cellTypes,padding:0,round:false,axis:null},color:dsbColor,marks:[
  Plot.cell(dsbTable,{x:"protein",y:"cell",fill:"v",stroke:"white",strokeWidth:1.8}),
  Plot.axisY({anchor:"right",tickSize:0,tickPadding:8,label:null,fill:"#000"}),
  Plot.axisX({tickRotate:-90,tickSize:0,tickPadding:9,label:null,fill:"#000",fontSize:21})
]},21.5);
place(68,1800,{width:39,height:696,margin:0,marginTop:20,marginBottom:192,y:{domain:cellTypes,padding:0,round:false,axis:null},color:cellColor,marks:[
  Plot.cell(cellTypes,{y:d=>d,fill:d=>d})
]});
note("Protein",487,1796,25.7);
note("Cell type",45,2062,26,{rotate:-90});
note("DSB Exp.",1162,1976,26.4,{anchor:"start",weight:"bold"});
const dsbRamp=d3.range(-.095,2.108,.01);
place(1162,1996,{width:100,height:163,margin:0,marginRight:70,y:{domain:[-.095,2.108],axis:null},color:dsbColor,marks:[
  Plot.rect(dsbRamp,{y1:d=>d,y2:d=>d+.02,fill:d=>d}),
  Plot.tickY([0,.5,1,1.5,2],{y:d=>d,stroke:"white",strokeWidth:1.5,insetRight:24}),
  Plot.tickY([0,.5,1,1.5,2],{y:d=>d,stroke:"white",strokeWidth:1.5,insetLeft:24}),
  Plot.axisY({anchor:"right",ticks:[0,.5,1,1.5,2],tickFormat:d=>String(d),tickSize:0,tickPadding:8,label:null,fill:"#000"})
]},25);
</script></body></html>
